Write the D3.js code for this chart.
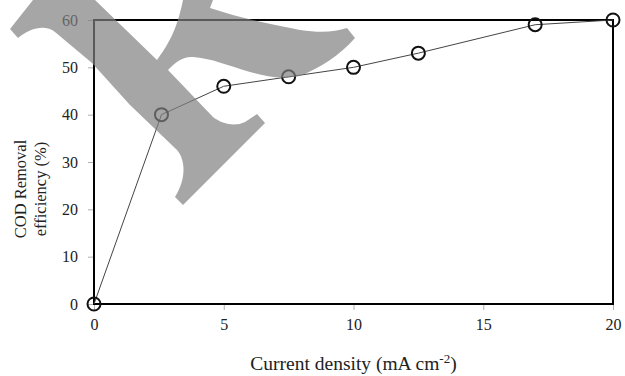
<!DOCTYPE html>
<html>
<head>
<meta charset="utf-8">
<script src="https://cdn.jsdelivr.net/npm/d3@7"></script>
<style>
  body { margin: 0; background: #fff; }
  text { font-family: "Liberation Serif", "Times New Roman", serif; }
</style>
</head>
<body>
<div id="chart"></div>
<script>
// data
const currentDensity = [0, 2.6, 5, 7.5, 10, 12.5, 17, 20];
const codRemoval = [0, 40, 46, 48, 50, 53, 59, 60];
const xTicks = [0, 5, 10, 15, 20];
const yTicks = [0, 10, 20, 30, 40, 50, 60];

const width = 625, height = 376;
const margin = { top: 20, right: 12, bottom: 72, left: 94 };

const svg = d3.select("#chart")
  .append("svg")
  .attr("width", width)
  .attr("height", height);

const x = d3.scaleLinear().domain([0, 20]).range([margin.left, width - margin.right]);
const y = d3.scaleLinear().domain([0, 60]).range([height - margin.bottom, margin.top]);

// axes (tick marks drawn outside, light grey)
const xAxis = svg.append("g")
  .attr("transform", `translate(0,${y(0)})`)
  .call(d3.axisBottom(x).tickValues(xTicks).tickSize(6).tickPadding(9).tickFormat(d3.format("d")));
const yAxis = svg.append("g")
  .attr("transform", `translate(${x(0)},0)`)
  .call(d3.axisLeft(y).tickValues(yTicks).tickSize(6).tickPadding(10).tickFormat(d3.format("d")));

[xAxis, yAxis].forEach(g => {
  g.attr("font-family", "Liberation Serif, serif").attr("font-size", 16);
  g.select(".domain").remove();
  g.selectAll(".tick line").attr("stroke", "#b0b0b0");
  g.selectAll(".tick text").attr("fill", "#222");
});

// plot frame
svg.append("rect")
  .attr("x", x(0))
  .attr("y", y(60))
  .attr("width", x(20) - x(0))
  .attr("height", y(0) - y(60))
  .attr("fill", "none")
  .attr("stroke", "#000")
  .attr("stroke-width", 2);

// series line
const line = d3.line()
  .x((d, i) => x(currentDensity[i]))
  .y(d => y(d));

svg.append("path")
  .datum(codRemoval)
  .attr("d", line)
  .attr("fill", "none")
  .attr("stroke", "#444")
  .attr("stroke-width", 1);

// markers
svg.selectAll("circle.pt")
  .data(codRemoval)
  .enter()
  .append("circle")
  .attr("class", "pt")
  .attr("cx", (d, i) => x(currentDensity[i]))
  .attr("cy", d => y(d))
  .attr("r", 6.5)
  .attr("fill", "none")
  .attr("stroke", "#111")
  .attr("stroke-width", 2);

// axis titles
const xt = svg.append("text")
  .attr("x", (x(0) + x(20)) / 2)
  .attr("y", 370)
  .attr("text-anchor", "middle")
  .attr("font-size", 19.5)
  .attr("fill", "#222");
xt.append("tspan").text("Current density (mA cm");
xt.append("tspan").text("-2").attr("font-size", 13).attr("dy", -7);
xt.append("tspan").text(")").attr("dy", 7);

const yt = svg.append("text")
  .attr("transform", "translate(0,189) rotate(-90)")
  .attr("text-anchor", "middle")
  .attr("font-size", 16.5)
  .attr("fill", "#222");
yt.append("tspan").attr("x", 0).attr("y", 26).text("COD Removal");
yt.append("tspan").attr("x", 0).attr("y", 46).text("efficiency (%)");

// grey watermark lying over the figure
const watermark = "M33,0 L95,0 L157,60 C168,45 177,30 183,0 L213,0 L210,8 " +
  "C240,18 273,25 300,30 C320,33 335,32 347,28 L355,38 " +
  "C340,55 320,68 300,76 C280,80 265,76 250,72 C230,66 210,58 193,57 C184,56 175,62 168,70 " +
  "L213,117 C222,124 235,127 245,122 L257,114 L265,123 L183,205 L175,197 " +
  "C186,180 186,160 177,150 L130,105 L92,63 L55,32 C45,24 30,28 18,38 L10,29 Z";
svg.append("path")
  .attr("d", watermark)
  .attr("fill", "#808080")
  .attr("fill-opacity", 0.7);
</script>
</body>
</html>
